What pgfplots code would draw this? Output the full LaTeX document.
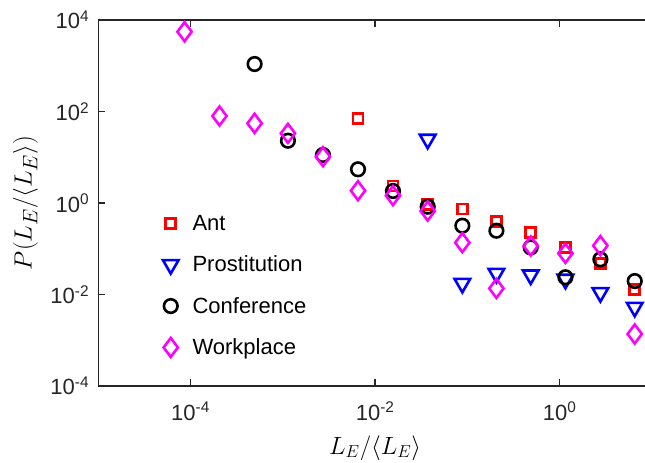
\documentclass[border=0pt]{standalone}
\usepackage{fontspec}
\setmainfont{Liberation Sans}
\usepackage{pgfplots}
\pgfplotsset{compat=1.18}
\definecolor{axgray}{RGB}{38,38,38}
\definecolor{mmag}{RGB}{255,0,255}
\definecolor{mred}{RGB}{255,0,0}
\definecolor{mblue}{RGB}{0,0,255}
\begin{document}
\begin{tikzpicture}
\begin{axis}[at={(0,0)}, anchor=south west, scale only axis,
  width=553.7pt, height=366pt,
  xmode=log, ymode=log, xmin=1e-5, xmax=10, ymin=1e-4, ymax=1e4,
  xtick={1e-4,1e-2,1}, xticklabels={10\textsuperscript{-4},10\textsuperscript{-2},10\textsuperscript{0}},
  ytick={1e-4,1e-2,1,1e2,1e4}, yticklabels={10\textsuperscript{-4},10\textsuperscript{-2},10\textsuperscript{0},10\textsuperscript{2},10\textsuperscript{4}},
  minor tick num=0, ytick pos=left, xtick pos=both,
  major tick length=7pt,
  every tick/.style={line width=1.5pt, axgray},
  axis line style={line width=1.5pt, axgray},
  tick label style={font=\fontsize{22}{26}\selectfont, text=axgray},
  yticklabel style={anchor=east, inner sep=0pt, xshift=-9pt},
  xticklabel style={anchor=north, inner sep=0pt, yshift=-16pt},
  xlabel={$L_E/\langle L_E\rangle$},
  ylabel={$P(L_E/\langle L_E\rangle)$},
  xlabel style={at={(axis description cs:0.5,0)}, anchor=south, inner sep=0pt, yshift=-74.5pt, font=\fontsize{27}{30}\selectfont},
  ylabel style={at={(axis description cs:-0.1315,0.5)}, anchor=center, inner sep=0pt, font=\fontsize{27.5}{30}\selectfont},
  legend style={draw=none, fill=none, font=\fontsize{22}{26}\selectfont,
    at={(0.111,0.478)}, anchor=north west, row sep=20pt,
    /tikz/every odd column/.append style={column sep=12pt}},
  legend cell align=left,
]
\addplot[only marks, mark=square, mark size=5pt, mred, line width=2.6pt] table {
x y
6.52e-3 71.0
1.56e-2 2.36
3.71e-2 0.935
8.81e-2 0.740
0.206 0.391
0.485 0.229
1.153 0.105
2.76 0.0481
6.50 0.0130
};
\addlegendentry{Ant}
\addplot[only marks, mark=triangle, mark size=9pt, mark options={rotate=180}, mblue, line width=2.6pt] table {
x y
3.71e-2 24.7
8.81e-2 0.0175
0.206 0.0290
0.485 0.0267
1.153 0.0215
2.76 0.0110
6.50 0.00525
};
\addlegendentry{Prostitution}
\addplot[only marks, mark=o, mark size=6.8pt, black, line width=2.6pt] table {
x y
4.94e-4 1091
1.135e-3 23.0
2.72e-3 11.2
6.52e-3 5.45
1.56e-2 1.83
3.71e-2 0.830
8.81e-2 0.319
0.206 0.248
0.485 0.107
1.153 0.0238
2.76 0.0587
6.50 0.0197
};
\addlegendentry{Conference}
\addplot[only marks, mark=diamond, mark size=9.5pt, mmag, line width=2.6pt] table {
x y
8.61e-5 5550
2.06e-4 79.8
4.94e-4 55.2
1.135e-3 33.3
2.72e-3 10.3
6.52e-3 1.86
1.56e-2 1.45
3.71e-2 0.668
8.81e-2 0.136
0.206 0.0136
0.485 0.115
1.153 0.0794
2.76 0.117
6.50 1.37e-3
};
\addlegendentry{Workplace}
\end{axis}
\pgfresetboundingbox
\useasboundingbox (-98.3pt,-77pt) rectangle (546.7pt,386pt);
\end{tikzpicture}
\end{document}
